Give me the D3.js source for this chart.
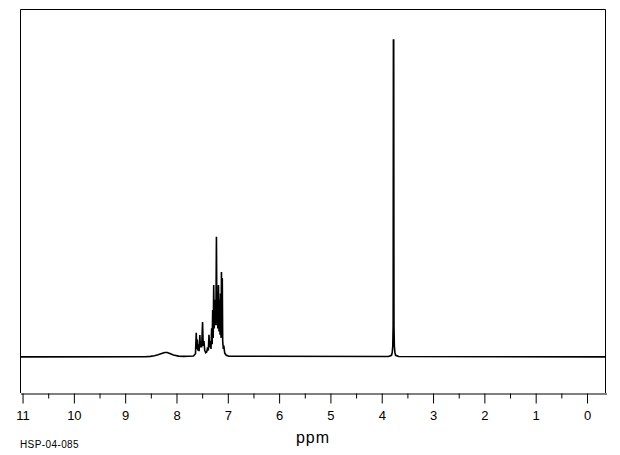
<!DOCTYPE html>
<html>
<head>
<meta charset="utf-8">
<script src="https://cdn.jsdelivr.net/npm/d3@7"></script>
<style>
  html, body { margin: 0; padding: 0; background: #fff; }
  svg { display: block; }
  text { font-family: "Liberation Sans", Arial, sans-serif; fill: #000; }
</style>
</head>
<body>
<svg id="chart" width="620" height="455"></svg>
<script>
// ---- data ----
const majorTicks = [11, 10, 9, 8, 7, 6, 5, 4, 3, 2, 1, 0];
const minorTicks = [10.5, 9.5, 8.5, 7.5, 6.5, 5.5, 4.5, 3.5, 2.5, 1.5, 0.5];
const xLabel = "ppm";
const sampleId = "HSP-04-085";

// chemical shift (ppm) and intensity (relative, tallest = 100)
const shiftPpm = [
  11.04, 8.60, 8.50, 8.42, 8.35, 8.28, 8.22, 8.17, 8.12, 8.05, 7.95, 7.85, 7.75,
  7.66, 7.62, 7.605, 7.595, 7.585, 7.575, 7.56, 7.55, 7.535, 7.525, 7.51, 7.50,
  7.482, 7.47, 7.455, 7.44, 7.42, 7.40, 7.385, 7.37, 7.357, 7.345, 7.33, 7.318,
  7.305, 7.295, 7.285, 7.275, 7.265, 7.255, 7.245, 7.235, 7.228, 7.222, 7.212,
  7.202, 7.195, 7.185, 7.172, 7.162, 7.152, 7.142, 7.132, 7.122, 7.114, 7.106,
  7.098, 7.09, 7.08, 7.066, 7.05, 7.02, 6.97,
  3.86, 3.80, 3.785, 3.775, 3.768, 3.763, 3.757, 3.752, 3.745, 3.735, 3.72, 3.66,
  -0.38
];
const intensity = [
  0, 0.05, 0.15, 0.35, 0.7, 1.1, 1.4, 1.4, 1.1, 0.6, 0.25, 0.15, 0.2,
  0.3, 1.0, 7.6, 2.5, 5.5, 2.0, 4.0, 1.8, 6.9, 3.0, 5.0, 3.0,
  11.0, 3.5, 5.0, 2.0, 1.3, 1.6, 3.0, 2.0, 7.0, 3.0, 5.0, 2.5,
  9.0, 4.0, 14.8, 6.0, 22.7, 9.0, 18.0, 10.0, 16.0, 12.0, 37.9,
  10.0, 20.0, 9.0, 22.7, 8.0, 18.0, 7.0, 20.0, 6.0, 26.8, 8.0,
  24.9, 5.0, 3.0, 3.2, 1.2, 0.5, 0.2,
  0.1, 0.5, 1.5, 3.5, 10, 100, 100, 10, 3.5, 1.5, 0.5, 0.1,
  0
];

// ---- layout ----
const svg = d3.select("#chart");
const mLeft = 20, mRight = 606, mTop = 9, mBottom = 393;

const x = d3.scaleLinear().domain([11.04, -0.38]).range([mLeft, mRight]);
const y = d3.scaleLinear().domain([-11.4, 109.8]).range([mBottom, mTop]);

// frame (top, left, right)
svg.append("path")
  .attr("d", `M${mLeft + 0.5},${mBottom}V${mTop + 0.5}H${mRight - 0.5}V${mBottom}`)
  .attr("fill", "none").attr("stroke", "#000").attr("stroke-width", 1);

// minor ticks
svg.append("g")
  .attr("transform", `translate(0.5,${mBottom + 0.5})`)
  .call(d3.axisBottom(x).tickValues(minorTicks).tickSize(5).tickSizeOuter(0).tickFormat(""))
  .call(g => g.select(".domain").remove())
  .call(g => g.selectAll("line").attr("stroke", "#000"));

// major ticks + labels + axis line
const ax = svg.append("g")
  .attr("transform", `translate(0.5,${mBottom + 0.5})`)
  .call(d3.axisBottom(x).tickValues(majorTicks).tickSize(10).tickSizeOuter(0).tickPadding(7).tickFormat(d3.format("d")));
ax.select(".domain").attr("stroke", "#000");
ax.selectAll("line").attr("stroke", "#000");
ax.selectAll("text")
  .attr("font-size", 13)
  .attr("font-family", "'Liberation Sans', Arial, sans-serif")
  .attr("fill", "#000");

// spectrum
const pts = shiftPpm.map((s, i) => [s, intensity[i]]);
svg.append("path")
  .datum(pts)
  .attr("fill", "none")
  .attr("stroke", "#000")
  .attr("stroke-width", 1.6)
  .attr("stroke-linejoin", "miter")
  .attr("d", d3.line().x(d => x(d[0])).y(d => y(d[1])));

// axis title
svg.append("text")
  .attr("x", (mLeft + mRight) / 2)
  .attr("y", 443)
  .attr("text-anchor", "middle")
  .attr("font-size", 16)
  .attr("letter-spacing", 1)
  .text(xLabel);

// sample id
svg.append("text")
  .attr("x", 20)
  .attr("y", 448)
  .attr("font-size", 10)
  .attr("letter-spacing", 0.4)
  .text(sampleId);
</script>
</body>
</html>
